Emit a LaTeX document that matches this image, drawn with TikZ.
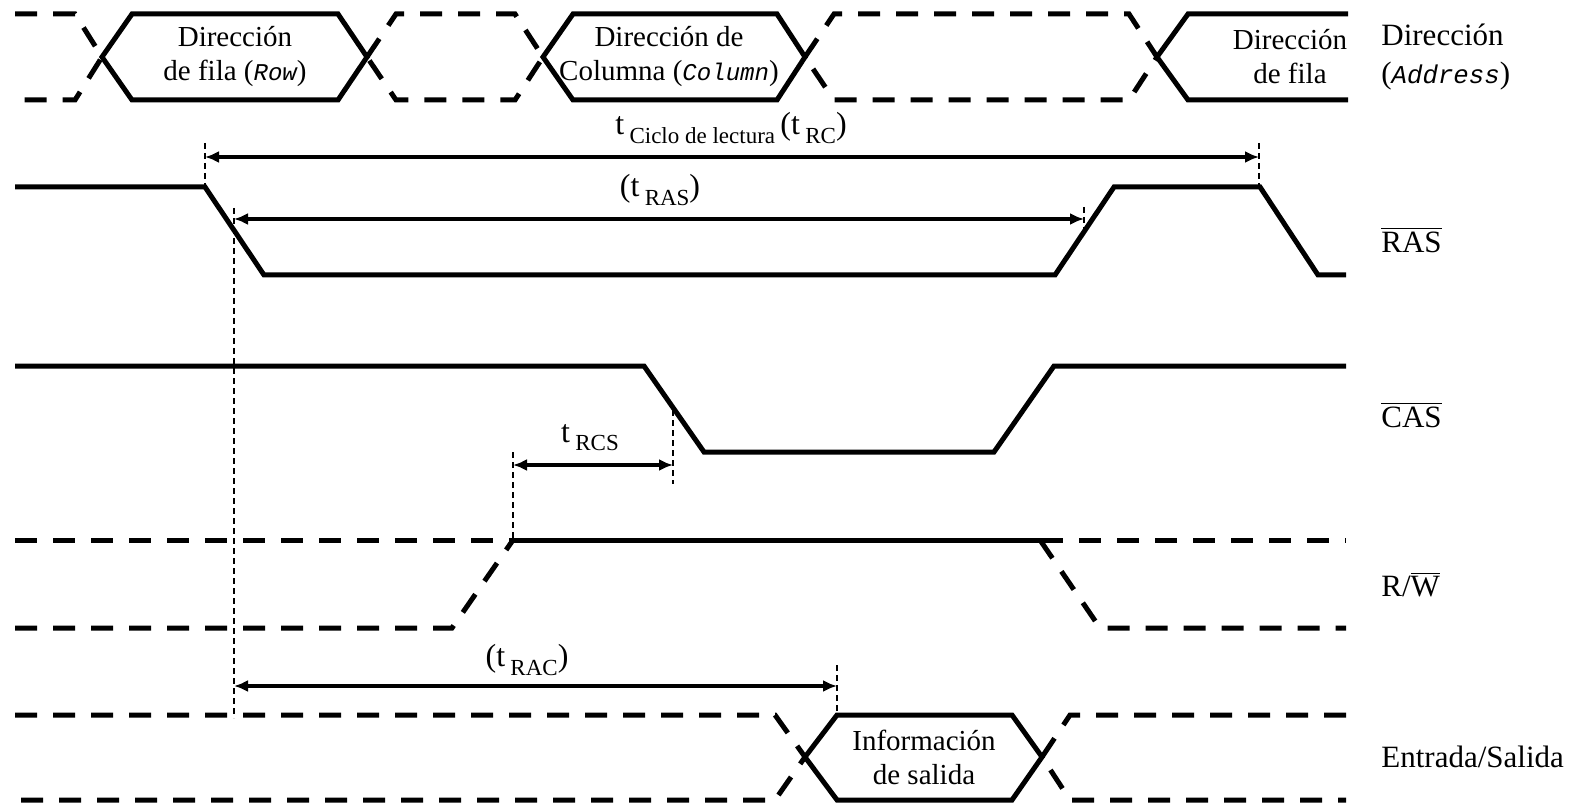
\documentclass[tikz,border=0pt]{standalone}
\usepackage{fontspec}
\setmainfont{Liberation Serif}
\setmonofont{Liberation Mono}[Scale=0.83]
\usetikzlibrary{arrows.meta}
% lowered, smaller subscript for timing names
\newcommand\tsub[1]{\raisebox{-0.55ex}{\fontsize{11.5}{11.5}\selectfont #1}}
\newcommand\cod[1]{{\ttfamily\itshape #1}}
\newcommand\ovl[1]{$\overline{\mbox{#1}}$}

\begin{document}
\begin{tikzpicture}[x=0.5pt,y=-0.5pt,
  wave/.style={line width=2.5pt, line join=miter, miter limit=4},
  dwave/.style={wave, dash pattern=on 11pt off 8pt},
  guide/.style={line width=0.75pt, dash pattern=on 3pt off 2pt},
  span/.style={line width=2pt, {Latex[length=7pt,width=6pt]}-{Latex[length=7pt,width=6pt]}},
  lbl/.style={font=\fontsize{14.5}{17}\selectfont, align=center, inner sep=0pt},
  tlbl/.style={font=\fontsize{16}{18}\selectfont, inner sep=0pt},
  sig/.style={font=\fontsize{15.5}{19}\selectfont, inner sep=0pt, anchor=west, align=left}]
\useasboundingbox (0,0) rectangle (1572,807);

% ---------------- address bus ----------------
\draw[dwave] (15,14) -- (75,14) -- (102,57) -- (75,100) -- (15,100);
\draw[wave] (102,57) -- (132,14) -- (338,14) -- (367,57) -- (338,100) -- (132,100) -- cycle;
\draw[dwave] (367,57) -- (396,14) -- (515,14) -- (543,57) -- (515,100) -- (396,100) -- cycle;
\draw[wave] (543,57) -- (573,14) -- (777,14) -- (805,57) -- (777,100) -- (573,100) -- cycle;
\draw[dwave] (805,57) -- (834,14) -- (1129,14) -- (1157,57) -- (1129,100) -- (834,100) -- cycle;
\draw[wave] (1348,14) -- (1188,14) -- (1157,57) -- (1188,100) -- (1348,100);
\node[lbl] (row) at (235,57) {Dirección\\de fila (\cod{Row})};
\node[lbl] (col) at (669,57) {Dirección de\\Columna (\cod{Column})};
\node[lbl] (row2) at (1290,57) {Dirección\\de fila};
\node[sig] (addr) at (1381,57) {Dirección\\(\cod{Address})};

% ---------------- RAS ----------------
\draw[wave] (15,187) -- (205,187) -- (264,275) -- (1055,275) -- (1114,187)
  -- (1260,187) -- (1318,275) -- (1346,275);
\node[sig] (ras) at (1381,240) {\ovl{RAS}};

% read cycle time
\coordinate (rcL) at (205,157);
\coordinate (rcR) at (1259,157);
\draw[guide] (205,143) -- (205,187);
\draw[guide] (1259,143) -- (1259,189);
\draw[span] (rcL) -- (rcR);
\node[tlbl] (trc) at (731,128) {t\,\tsub{Ciclo de lectura}\,(t\,\tsub{RC})};

% RAS active time
\coordinate (rasL) at (234,219);
\coordinate (rasR) at (1084,219);
\draw[guide] (234,208) -- (234,718);
\draw[guide] (1084,207) -- (1084,232);
\draw[span] (rasL) -- (rasR);
\node[tlbl] (tras) at (660,190) {(t\,\tsub{RAS})};

% ---------------- CAS ----------------
\draw[wave] (15,366) -- (644,366) -- (704,452) -- (994,452) -- (1054,366) -- (1346,366);
\node[sig] (cas) at (1381,415) {\ovl{CAS}};

% read command set-up time
\coordinate (rcsL) at (513,465);
\coordinate (rcsR) at (673,465);
\draw[guide] (673,410) -- (673,484);
\draw[guide] (513,452) -- (513,540);
\draw[span] (rcsL) -- (rcsR);
\node[tlbl] (trcs) at (590,438) {t\,\tsub{RCS}};

% ---------------- R/W ----------------
\draw[dwave] (15,540) -- (1346,540);
\draw[dwave] (15,628) -- (452,628) -- (513,540);
\draw[dwave] (1040,540) -- (1100,628) -- (1346,628);
\draw[wave] (513,540) -- (1058,540);
\node[sig] (rw) at (1381,585) {R/\ovl{W}};

% ---------------- data I/O ----------------
\draw[dwave] (15,715) -- (775,715) -- (805,757) -- (775,800) -- (15,800);
\draw[wave] (805,757) -- (837,715) -- (1012,715) -- (1042,757) -- (1012,800) -- (837,800) -- cycle;
\draw[dwave] (1346,715) -- (1070,715) -- (1042,757) -- (1070,800) -- (1346,800);
\node[lbl] (dout) at (924,757) {Información\\de salida};
\node[sig] (io) at (1381,757) {Entrada/Salida};

% RAS access time
\coordinate (racL) at (234,686);
\coordinate (racR) at (837,686);
\draw[guide] (837,665) -- (837,715);
\draw[span] (racL) -- (racR);
\node[tlbl] (trac) at (527,660) {(t\,\tsub{RAC})};
\end{tikzpicture}
\end{document}
